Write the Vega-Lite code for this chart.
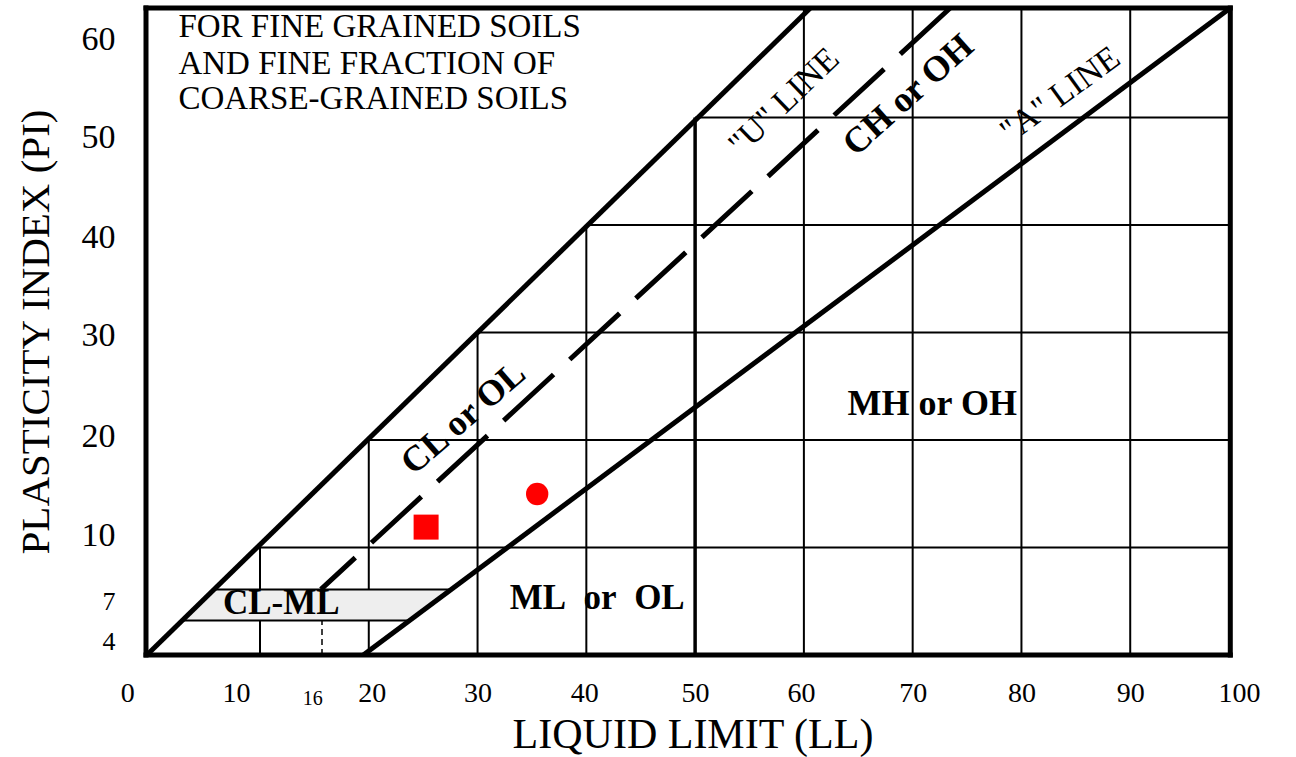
{
  "$schema": "https://vega.github.io/schema/vega-lite/v6.json",
  "width": 1093,
  "height": 647,
  "autosize": {"type": "none"},
  "padding": {"left": 146, "top": 8, "right": 57, "bottom": 102},
  "background": "white",
  "config": {
    "view": {"stroke": null},
    "axis": {"domain": false, "ticks": false, "grid": false, "labelFont": "Liberation Serif", "titleFont": "Liberation Serif", "labelColor": "black", "titleColor": "black", "titleFontWeight": "normal", "labelOverlap": false, "labelBound": false, "labelFlush": false},
    "text": {"font": "Liberation Serif", "color": "black"}
  },
  "datasets": {
    "grid": [
      {"ll": 10, "pi": 10, "ll2": 99.2, "pi2": 10},
      {"ll": 20, "pi": 20, "ll2": 99.2, "pi2": 20},
      {"ll": 30, "pi": 30, "ll2": 99.2, "pi2": 30},
      {"ll": 40, "pi": 40, "ll2": 99.2, "pi2": 40},
      {"ll": 50, "pi": 50, "ll2": 99.2, "pi2": 50},
      {"ll": 10, "pi": 0, "ll2": 10, "pi2": 10},
      {"ll": 20, "pi": 0, "ll2": 20, "pi2": 20},
      {"ll": 30, "pi": 0, "ll2": 30, "pi2": 30},
      {"ll": 40, "pi": 0, "ll2": 40, "pi2": 40},
      {"ll": 60, "pi": 0, "ll2": 60, "pi2": 60.2},
      {"ll": 70, "pi": 0, "ll2": 70, "pi2": 60.2},
      {"ll": 80, "pi": 0, "ll2": 80, "pi2": 60.2},
      {"ll": 90, "pi": 0, "ll2": 90, "pi2": 60.2}
    ],
    "ll50": [{"ll": 50, "pi": 0, "ll2": 50, "pi2": 50}],
    "ll16": [{"ll": 15.7, "pi": 0, "ll2": 15.7, "pi2": 6.1}],
    "band": [
      {"pi": 3.2, "ll": 2.84, "ll2": 23.74},
      {"pi": 6.1, "ll": 5.78, "ll2": 27.58}
    ],
    "uline": [{"ll": -0.4, "pi": 0, "ll2": 60.6, "pi2": 60.2}],
    "aline": [{"ll": 19.5, "pi": 0, "ll2": 99.2, "pi2": 60.2}],
    "dashline": [{"ll": 73.45, "pi": 60.2, "ll2": 15.6, "pi2": 6.1}],
    "frame": [
      {"ll": -0.48, "pi": 0, "ll2": -0.48, "pi2": 60.2},
      {"ll": 99.2, "pi": 0, "ll2": 99.2, "pi2": 60.2},
      {"ll": -0.48, "pi": 0, "ll2": 99.2, "pi2": 0},
      {"ll": -0.48, "pi": 60.2, "ll2": 99.2, "pi2": 60.2}
    ],
    "squarePt": [{"ll": 25.27, "pi": 11.9}],
    "circlePt": [{"ll": 35.48, "pi": 14.98}],
    "note": [
      {"ll": 2.5, "pi": 58.4, "label": "FOR FINE GRAINED SOILS"},
      {"ll": 2.5, "pi": 55.0, "label": "AND FINE FRACTION OF"},
      {"ll": 2.5, "pi": 51.7, "label": "COARSE-GRAINED SOILS"}
    ],
    "uLabel": [{"ll": 58.2, "pi": 51.45, "label": "\"U\" LINE"}],
    "aLabel": [{"ll": 83.6, "pi": 52.1, "label": "\"A\" LINE"}],
    "chLabel": [{"ll": 69.6, "pi": 52.1, "label": "CH or OH"}],
    "clLabel": [{"ll": 28.7, "pi": 22.05, "label": "CL or OL"}],
    "mhLabel": [{"ll": 71.8, "pi": 23.35, "label": "MH or OH"}],
    "mlLabel": [{"ll": 41.0, "pi": 5.27, "label": "ML\u00a0\u00a0or\u00a0\u00a0OL"}],
    "clmlLabel": [{"ll": 11.95, "pi": 4.84, "label": "CL-ML"}]
  },
  "encoding": {
    "x": {
      "field": "ll", "type": "quantitative",
      "scale": {"domain": [-0.48, 100], "nice": false, "zero": false},
      "axis": {
        "title": "LIQUID LIMIT (LL)",
        "values": [0, 10, 16, 20, 30, 40, 50, 60, 70, 80, 90, 100],
        "labelFontSize": {"expr": "datum.value === 16 ? 20 : 28"},
        "labelOffset": {"expr": "datum.value === 0 ? -24 : datum.value === 10 ? -24 : datum.value === 16 ? -13 : datum.value === 20 ? 3 : datum.value === 40 ? -2 : datum.value === 60 ? -3 : 0"},
        "labelPadding": {"expr": "datum.value === 16 ? 33 : 24"},
        "titleFontSize": 42, "titlePadding": 6
      }
    },
    "y": {
      "field": "pi", "type": "quantitative",
      "scale": {"domain": [0, 60.2], "nice": false, "zero": false},
      "axis": {
        "title": "PLASTICITY INDEX (PI)",
        "values": [4, 7, 10, 20, 30, 40, 50, 60],
        "labelFontSize": {"expr": "datum.value < 8 ? 26 : 34"},
        "labelOffset": {"expr": "datum.value === 60 ? 29 : datum.value === 50 ? 20 : datum.value === 40 ? 12 : datum.value === 30 ? 3 : datum.value === 20 ? -4 : datum.value === 10 ? -12 : datum.value === 7 ? 22 : datum.value === 4 ? 29 : 0"},
        "labelPadding": 31, "titleFontSize": 41, "titlePadding": 24
      }
    }
  },
  "layer": [
    {"data": {"name": "grid"}, "mark": {"type": "rule", "color": "black", "strokeWidth": 2}, "encoding": {"x2": {"field": "ll2"}, "y2": {"field": "pi2"}}},
    {"data": {"name": "ll50"}, "mark": {"type": "rule", "color": "black", "strokeWidth": 3.5}, "encoding": {"x2": {"field": "ll2"}, "y2": {"field": "pi2"}}},
    {"data": {"name": "ll16"}, "mark": {"type": "rule", "color": "black", "strokeWidth": 1.5, "strokeDash": [6, 4]}, "encoding": {"x2": {"field": "ll2"}, "y2": {"field": "pi2"}}},
    {"data": {"name": "band"}, "mark": {"type": "area", "orient": "horizontal", "fill": "#eeeeee", "stroke": "black", "strokeWidth": 2, "opacity": 1}, "encoding": {"x2": {"field": "ll2"}}},
    {"data": {"name": "uline"}, "mark": {"type": "rule", "color": "black", "strokeWidth": 5}, "encoding": {"x2": {"field": "ll2"}, "y2": {"field": "pi2"}}},
    {"data": {"name": "aline"}, "mark": {"type": "rule", "color": "black", "strokeWidth": 5}, "encoding": {"x2": {"field": "ll2"}, "y2": {"field": "pi2"}}},
    {"data": {"name": "dashline"}, "mark": {"type": "rule", "color": "black", "strokeWidth": 5, "strokeDash": [68, 22]}, "encoding": {"x2": {"field": "ll2"}, "y2": {"field": "pi2"}}},
    {"data": {"name": "frame"}, "mark": {"type": "rule", "color": "black", "strokeWidth": 5, "strokeCap": "square"}, "encoding": {"x2": {"field": "ll2"}, "y2": {"field": "pi2"}}},
    {"data": {"name": "squarePt"}, "mark": {"type": "square", "color": "#ff0000", "size": 625, "opacity": 1, "filled": true}},
    {"data": {"name": "circlePt"}, "mark": {"type": "circle", "color": "#ff0000", "size": 500, "opacity": 1}},
    {"data": {"name": "note"}, "mark": {"type": "text", "align": "left", "baseline": "middle", "fontSize": 33}, "encoding": {"text": {"field": "label"}}},
    {"data": {"name": "uLabel"}, "mark": {"type": "text", "align": "center", "baseline": "middle", "fontSize": 34, "angle": 316}, "encoding": {"text": {"field": "label"}}},
    {"data": {"name": "aLabel"}, "mark": {"type": "text", "align": "center", "baseline": "middle", "fontSize": 34, "angle": 324}, "encoding": {"text": {"field": "label"}}},
    {"data": {"name": "chLabel"}, "mark": {"type": "text", "align": "center", "baseline": "middle", "fontSize": 36, "fontWeight": "bold", "angle": 318}, "encoding": {"text": {"field": "label"}}},
    {"data": {"name": "clLabel"}, "mark": {"type": "text", "align": "center", "baseline": "middle", "fontSize": 36, "fontWeight": "bold", "angle": 319}, "encoding": {"text": {"field": "label"}}},
    {"data": {"name": "mhLabel"}, "mark": {"type": "text", "align": "center", "baseline": "middle", "fontSize": 36, "fontWeight": "bold"}, "encoding": {"text": {"field": "label"}}},
    {"data": {"name": "mlLabel"}, "mark": {"type": "text", "align": "center", "baseline": "middle", "fontSize": 35, "fontWeight": "bold"}, "encoding": {"text": {"field": "label"}}},
    {"data": {"name": "clmlLabel"}, "mark": {"type": "text", "align": "center", "baseline": "middle", "fontSize": 35, "fontWeight": "bold"}, "encoding": {"text": {"field": "label"}}}
  ]
}
